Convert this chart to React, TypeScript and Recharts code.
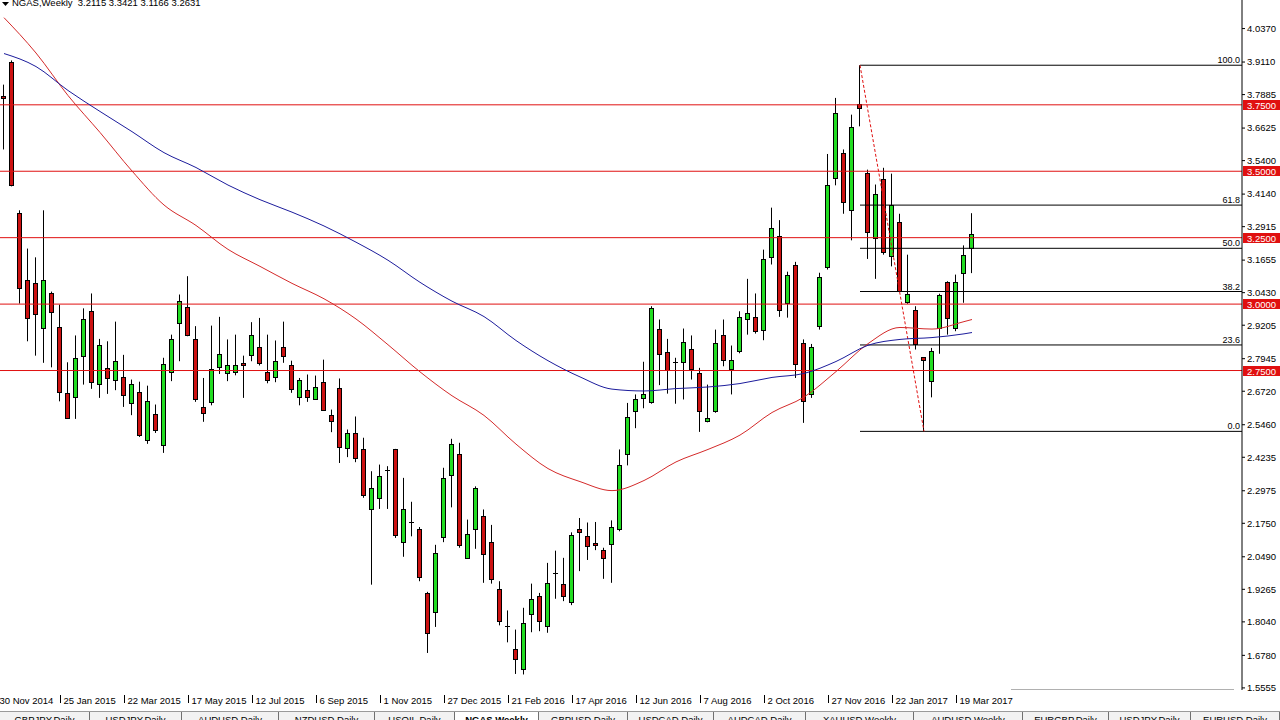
import { Bar, ComposedChart, Line, ReferenceLine, XAxis, YAxis } from "recharts"

// weekly NGAS candles, first bar = week of 7 Dec 2014
const opens = [
  3.785, 3.913, 3.343, 3.089, 3.08, 2.911, 3.04, 2.912, 2.666, 2.651,
  2.805, 2.975, 2.701, 2.76, 2.716, 2.726, 2.628, 2.67, 2.49, 2.587,
  2.47, 2.745, 2.927, 2.99, 2.867, 2.611, 2.631, 2.762, 2.741, 2.745,
  2.779, 2.807, 2.839, 2.746, 2.726, 2.839, 2.769, 2.651, 2.675, 2.642,
  2.707, 2.583, 2.685, 2.459, 2.515, 2.455, 2.227, 2.271, 2.374, 2.453,
  2.105, 2.179, 2.154, 1.913, 1.842, 2.124, 2.356, 2.437, 2.045, 2.154,
  2.202, 2.105, 1.928, 1.785, 1.702, 1.627, 1.835, 1.9, 1.79, 1.986,
  1.948, 1.878, 2.155, 2.127, 2.101, 2.076, 2.098, 2.154, 2.436, 2.597,
  2.647, 2.632, 2.907, 2.82, 2.779, 2.781, 2.832, 2.739, 2.559, 2.597,
  2.885, 2.754, 2.822, 2.944, 2.952, 2.902, 3.178, 3.258, 3.005, 3.146,
  2.854, 2.662, 2.917, 3.14, 3.475, 3.567, 3.356, 3.754, 3.494, 3.249,
  3.471, 3.18, 3.31, 3.008, 2.976, 2.8, 2.712, 2.911, 3.082, 2.911,
  3.118, 3.2115,
]
const highs = [
  3.826, 3.917, 3.353, 3.209, 3.176, 3.353, 3.047, 2.998, 2.781, 2.882,
  2.984, 3.04, 2.869, 2.86, 2.934, 2.809, 2.716, 2.708, 2.693, 2.622,
  2.798, 2.885, 3.036, 3.105, 2.917, 2.722, 2.919, 2.952, 2.867, 2.885,
  2.806, 2.932, 2.948, 2.885, 2.863, 2.934, 2.787, 2.722, 2.735, 2.731,
  2.791, 2.603, 2.72, 2.528, 2.577, 2.497, 2.371, 2.396, 2.39, 2.455,
  2.346, 2.256, 2.161, 1.917, 2.094, 2.384, 2.493, 2.478, 2.189, 2.314,
  2.227, 2.169, 1.957, 1.847, 1.775, 1.857, 1.948, 1.913, 2.026, 2.072,
  2.045, 2.141, 2.195, 2.178, 2.18, 2.083, 2.186, 2.453, 2.628, 2.66,
  2.783, 2.992, 2.942, 2.869, 2.798, 2.908, 2.882, 2.76, 2.697, 2.904,
  2.942, 2.844, 2.973, 3.095, 3.04, 3.205, 3.363, 3.316, 3.122, 3.159,
  2.867, 2.85, 3.118, 3.565, 3.776, 3.582, 3.713, 3.899, 3.506, 3.45,
  3.513, 3.491, 3.34, 3.186, 2.992, 2.8, 2.835, 3.039, 3.086, 3.111,
  3.221, 3.3421,
]
const lows = [
  3.582, 3.443, 3.002, 2.86, 2.806, 2.779, 2.762, 2.634, 2.568, 2.568,
  2.697, 2.681, 2.647, 2.662, 2.676, 2.613, 2.582, 2.5, 2.474, 2.515,
  2.44, 2.71, 2.785, 2.879, 2.632, 2.557, 2.619, 2.737, 2.71, 2.732,
  2.647, 2.785, 2.769, 2.702, 2.706, 2.779, 2.666, 2.619, 2.632, 2.64,
  2.6, 2.518, 2.402, 2.424, 2.405, 2.271, 1.944, 2.229, 2.229, 2.12,
  2.049, 2.126, 1.957, 1.687, 1.785, 2.104, 2.235, 2.083, 2.041, 2.079,
  1.951, 1.948, 1.791, 1.727, 1.608, 1.606, 1.765, 1.769, 1.763, 1.891,
  1.882, 1.867, 1.995, 2.037, 2.074, 1.966, 1.951, 2.145, 2.393, 2.533,
  2.608, 2.625, 2.695, 2.663, 2.625, 2.641, 2.716, 2.519, 2.555, 2.591,
  2.766, 2.66, 2.815, 2.885, 2.889, 2.864, 3.149, 2.952, 2.949, 2.722,
  2.553, 2.647, 2.904, 3.13, 3.447, 3.34, 3.24, 3.669, 3.17, 3.095,
  3.186, 3.142, 3.046, 3.001, 2.829, 2.521, 2.649, 2.813, 2.885, 2.898,
  3.005, 3.1166,
]
const closes = [
  3.776, 3.447, 3.061, 2.948, 2.963, 3.089, 2.971, 2.668, 2.572, 2.798,
  2.944, 2.707, 2.847, 2.722, 2.787, 2.656, 2.7, 2.506, 2.636, 2.528,
  2.775, 2.869, 3.012, 2.884, 2.641, 2.591, 2.756, 2.814, 2.771, 2.771,
  2.771, 2.882, 2.779, 2.715, 2.787, 2.804, 2.681, 2.716, 2.651, 2.689,
  2.603, 2.561, 2.463, 2.515, 2.421, 2.282, 2.308, 2.354, 2.376, 2.13,
  2.229, 2.181, 1.973, 1.763, 2.064, 2.346, 2.475, 2.092, 2.135, 2.308,
  2.06, 1.966, 1.806, 1.787, 1.665, 1.8, 1.891, 1.806, 1.951, 1.988,
  1.9, 2.131, 2.143, 2.089, 2.094, 2.045, 2.162, 2.396, 2.576, 2.641,
  2.663, 2.986, 2.813, 2.751, 2.781, 2.858, 2.754, 2.597, 2.572, 2.854,
  2.789, 2.791, 2.952, 2.967, 2.898, 3.168, 3.287, 2.977, 3.111, 2.775,
  2.637, 2.838, 3.101, 3.447, 3.72, 3.385, 3.667, 3.739, 3.272, 3.415,
  3.197, 3.372, 3.048, 3.039, 2.85, 2.79, 2.825, 3.036, 2.948, 3.084,
  3.186, 3.2631,
]

// moving averages, read at every 4th bar
const maIdx = [
  0, 4, 8, 12, 16, 20, 24, 28, 32, 36, 40, 44, 48, 52, 56, 60,
  64, 68, 72, 76, 80, 84, 88, 92, 96, 100, 104, 108, 112, 116, 120, 121,
]
const maSlow = [
  3.943, 3.894, 3.804, 3.725, 3.649, 3.57, 3.514, 3.448, 3.393, 3.346, 3.294, 3.233, 3.165, 3.082, 3.011, 2.953,
  2.863, 2.787, 2.726, 2.68, 2.673, 2.682, 2.688, 2.701, 2.724, 2.739, 2.784, 2.845, 2.867, 2.874, 2.888, 2.893,
]
const maFast = [
  4.078, 3.945, 3.785, 3.646, 3.501, 3.373, 3.296, 3.206, 3.142, 3.078, 3.02, 2.944, 2.847, 2.745, 2.655, 2.581,
  2.473, 2.381, 2.332, 2.298, 2.336, 2.406, 2.453, 2.507, 2.592, 2.65, 2.746, 2.851, 2.912, 2.906, 2.934, 2.942,
]

const dateTicks = [-1, 7, 15, 23, 31, 39, 47, 55, 63, 71, 79, 87, 95, 103, 111, 119]
const dateLabels = [
  "30 Nov 2014", "25 Jan 2015", "22 Mar 2015", "17 May 2015", "12 Jul 2015", "6 Sep 2015",
  "1 Nov 2015", "27 Dec 2015", "21 Feb 2016", "17 Apr 2016", "12 Jun 2016", "7 Aug 2016",
  "2 Oct 2016", "27 Nov 2016", "22 Jan 2017", "19 Mar 2017",
]
const priceTicks = [
  4.037, 3.911, 3.7885, 3.6625, 3.54, 3.414, 3.2915, 3.1655, 3.043, 2.9205, 2.7945,
  2.672, 2.546, 2.4235, 2.2975, 2.175, 2.049, 1.9265, 1.804, 1.678, 1.5555,
]
const levels = [3.75, 3.5, 3.25, 3.0, 2.75]
const fibPcts = [100, 61.8, 50, 38.2, 23.6, 0]
const fibFrom = 107
const fibTo = 115
const quote = ["3.2115", "3.3421", "3.1166", "3.2631"]
const tabs = [
  "GBPJPY,Daily", "USDJPY,Daily", "AUDUSD,Daily", "NZDUSD,Daily", "USOIL,Daily", "NGAS,Weekly",
  "GBPUSD,Daily", "USDCAD,Daily", "AUDCAD,Daily", "XAUUSD,Weekly", "AUDUSD,Weekly", "EURGBP,Daily",
  "USDJPY,Daily", "EURUSD,Daily",
]
const tabWidths = [90, 92, 97, 96, 80, 84, 89, 86, 92, 108, 109, 86, 82, 89]

const X_DOMAIN: [number, number] = [-0.5, 154.75]
const Y_DOMAIN: [number, number] = [1.5476, 4.1445]
const FONT = "'Liberation Sans', Arial, sans-serif"
const RED = "#cc1111"
const GREEN = "#22dd22"

const rows = opens.map((open, i) => ({
  i,
  range: [lows[i], highs[i]],
  open,
  close: closes[i],
  high: highs[i],
  low: lows[i],
}))

const maRows = maIdx.map((i, k) => ({ i, slow: maSlow[k], fast: maFast[k] }))

const fibHigh = highs[fibFrom]
const fibLow = lows[fibTo]

function Candle(props: any) {
  const { x, y, width, height, payload } = props
  if (x == null || y == null) return null
  const { open, close, high, low } = payload
  const top = Math.min(y, y + height)
  const h = Math.abs(height)
  const span = high - low || 1
  const py = (v: number) => top + ((high - v) / span) * h
  const c = Math.floor(x + width / 2)
  const bodyTop = Math.round(py(Math.max(open, close)))
  const bodyBot = Math.round(py(Math.min(open, close)))
  const doji = Math.abs(open - close) < 0.003
  return (
    <g>
      <line x1={c + 0.5} x2={c + 0.5} y1={top} y2={top + h} stroke="#000" strokeWidth={1} />
      {doji ? (
        <line x1={c - 2} x2={c + 3} y1={bodyTop + 0.5} y2={bodyTop + 0.5} stroke="#000" strokeWidth={1} />
      ) : (
        <rect
          x={c - 1.5}
          y={bodyTop + 0.5}
          width={4}
          height={Math.max(1, bodyBot - bodyTop)}
          fill={close >= open ? GREEN : RED}
          stroke="#000"
          strokeWidth={1}
        />
      )}
    </g>
  )
}

function DateTick(props: any) {
  const { x, y, index } = props
  const bx = Math.round(index === 0 ? x - 4 : x) + 0.5
  return (
    <g>
      <line x1={bx} x2={bx} y1={y + 5} y2={y + 13} stroke="#000" />
      <text x={bx + 3} y={y + 13.5} fontSize={9.5} fontFamily={FONT} fill="#000">
        {dateLabels[index]}
      </text>
    </g>
  )
}

function LevelTag(props: any) {
  const { viewBox, value } = props
  if (!viewBox) return null
  const ly = Math.round(viewBox.y)
  const lx = viewBox.x + viewBox.width + 1
  return (
    <g>
      <rect x={lx} y={ly - 5} width={37} height={10} fill="#e01010" />
      <text x={lx + 4} y={ly + 3.5} fontSize={9.5} fontFamily={FONT} fill="#fff">
        {value.toFixed(4)}
      </text>
    </g>
  )
}

function FibTag(props: any) {
  const { viewBox, text } = props
  if (!viewBox) return null
  return (
    <text
      x={viewBox.x + viewBox.width - 2}
      y={Math.round(viewBox.y) - 2}
      textAnchor="end"
      fontSize={9}
      fontFamily={FONT}
      fill="#000"
    >
      {text}
    </text>
  )
}

export default function App() {
  return (
    <div
      style={{
        position: "absolute",
        left: 0,
        top: 0,
        width: 1280,
        height: 720,
        overflow: "hidden",
        background: "#fff",
        fontFamily: FONT,
      }}
    >
      <ComposedChart width={1280} height={720} data={rows} margin={{ top: 0, right: 0, bottom: 0, left: 0 }}>
        <XAxis
          type="number"
          dataKey="i"
          domain={X_DOMAIN}
          allowDataOverflow
          ticks={dateTicks.map((v) => Math.max(v, X_DOMAIN[0]))}
          interval={0}
          height={30}
          axisLine={false}
          tickLine={false}
          tickSize={0}
          tickMargin={0}
          tick={<DateTick />}
        />
        <YAxis
          orientation="right"
          domain={Y_DOMAIN}
          allowDataOverflow
          ticks={priceTicks}
          interval={0}
          width={38}
          axisLine={{ stroke: "#000" }}
          tickLine={{ stroke: "#000" }}
          tickSize={3}
          tickMargin={2}
          tick={{ fontSize: 9.5, fill: "#000", fontFamily: FONT }}
          tickFormatter={(v: number) => v.toFixed(4)}
        />
        {levels.map((v) => (
          <ReferenceLine key={v} y={v} stroke="#e01010" strokeWidth={1} label={<LevelTag value={v} />} />
        ))}
        {fibPcts.map((p) => {
          const v = fibLow + ((fibHigh - fibLow) * p) / 100
          return (
            <ReferenceLine
              key={p}
              segment={[
                { x: fibFrom, y: v },
                { x: X_DOMAIN[1], y: v },
              ]}
              stroke="#000"
              strokeWidth={1}
              label={<FibTag text={p.toFixed(1)} />}
            />
          )
        })}
        <ReferenceLine
          segment={[
            { x: fibFrom, y: fibHigh },
            { x: fibTo, y: fibLow },
          ]}
          stroke="#e01010"
          strokeDasharray="3 2"
        />
        <Line
          data={maRows}
          dataKey="fast"
          type="monotone"
          stroke="#d42a2a"
          strokeWidth={1}
          dot={false}
          activeDot={false}
          isAnimationActive={false}
        />
        <Line
          data={maRows}
          dataKey="slow"
          type="monotone"
          stroke="#1c1c9c"
          strokeWidth={1}
          dot={false}
          activeDot={false}
          isAnimationActive={false}
        />
        <Bar dataKey="range" barSize={5} shape={<Candle />} isAnimationActive={false} />
      </ComposedChart>

      <div
        style={{
          position: "absolute",
          left: 2,
          top: -3,
          fontSize: 9.5,
          lineHeight: "11px",
          whiteSpace: "pre",
          color: "#000",
          display: "flex",
          alignItems: "center",
        }}
      >
        <svg width={8} height={11} style={{ marginRight: 2 }}>
          <polygon points="0,5 7,5 3.5,9" fill="#000" />
        </svg>
        <span>{"NGAS,Weekly  " + quote.join(" ")}</span>
      </div>

      <div
        style={{
          position: "absolute",
          left: 1011,
          top: 689,
          width: 223,
          height: 1,
          background: "#b0b0b0",
        }}
      />

      <div
        style={{
          position: "absolute",
          left: 0,
          top: 711,
          width: 1280,
          height: 9,
          overflow: "hidden",
          display: "flex",
          background: "#f2f2f2",
          borderTop: "1px solid #9a9a9a",
          boxSizing: "border-box",
        }}
      >
        {tabs.map((t, k) => (
          <div
            key={k}
            style={{
              width: tabWidths[k],
              flex: "none",
              boxSizing: "border-box",
              borderRight: "1px solid #707070",
              background: t === "NGAS,Weekly" ? "#fff" : "transparent",
              fontSize: 9.5,
              lineHeight: "11px",
              paddingTop: 2,
              textAlign: "center",
              color: "#000",
              whiteSpace: "nowrap",
              fontWeight: t === "NGAS,Weekly" ? 700 : 400,
            }}
          >
            {t}
          </div>
        ))}
      </div>
    </div>
  )
}
